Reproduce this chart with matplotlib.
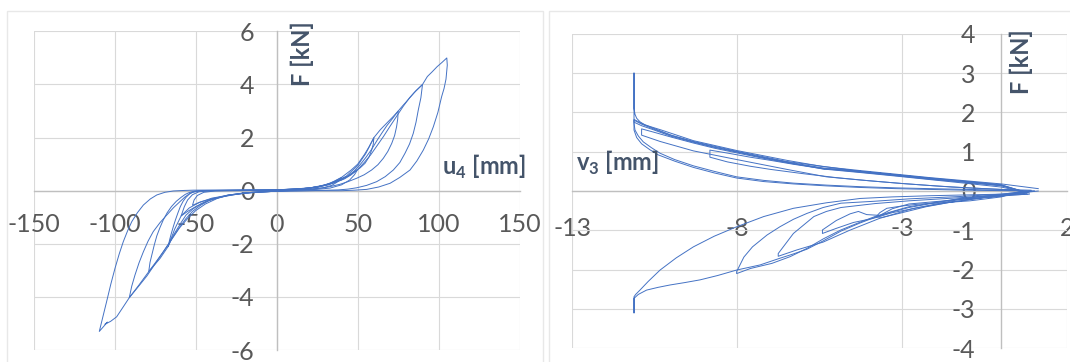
import matplotlib
matplotlib.use("Agg")
import matplotlib.pyplot as plt
from matplotlib.patches import Rectangle

plt.rcParams['font.family'] = ['Lato', 'DejaVu Sans']
plt.rcParams['axes.unicode_minus'] = False
plt.rcParams['mathtext.fontset'] = 'custom'
plt.rcParams['mathtext.rm'] = 'Lato:bold'
plt.rcParams['mathtext.bf'] = 'Lato:bold'

# ---- left chart: horizontal displacement u4 vs force, cycle by cycle ----
u4_c1 = [0, 10, 20, 30, 36, 40, 38, 34, 28, 20, 10, 0, -10, -20, -30, -40, -47, -52, -51, -49, -45, -38, -25, -10, 0]
f_c1 = [0, 0.04, 0.1, 0.22, 0.36, 0.5, 0.35, 0.2, 0.1, 0.05, 0.02, -0.01, -0.04, -0.1, -0.18, -0.3, -0.42, -0.55, -0.35, -0.18, -0.06, -0.01, 0.0, 0.01, 0.02]

u4_c2 = [0, 10, 20, 30, 38, 44, 50, 48, 45, 40, 33, 25, 12, 0, -10, -20, -30, -40, -48, -54, -59, -57, -55, -52, -48, -40, -25, -10, 0]
f_c2 = [0.02, 0.05, 0.1, 0.2, 0.38, 0.55, 0.8, 0.6, 0.4, 0.22, 0.1, 0.05, 0.02, -0.02, -0.05, -0.1, -0.17, -0.28, -0.45, -0.65, -0.95, -0.6, -0.35, -0.15, -0.04, 0.0, 0.01, 0.02, 0.03]

u4_c3 = [0, 15, 25, 33, 40, 46, 50, 54, 57, 60, 59.6, 58.6, 57, 54.5, 51.5, 48.3, 45, 41, 35, 25, 12, 0,
         -15, -28, -40, -50, -55, -59, -63, -67, -66.1, -65, -63.8, -62.5, -61, -59.5, -57.8, -56, -54, -52, -47, -35, -20, 0]
f_c3 = [0.03, 0.07, 0.14, 0.28, 0.5, 0.78, 1.0, 1.35, 1.65, 2.0, 1.75, 1.53, 1.27, 1.03, 0.86, 0.72, 0.58, 0.47, 0.3, 0.12, 0.04, -0.02,
        -0.06, -0.15, -0.32, -0.6, -0.78, -0.95, -1.45, -2.1, -1.85, -1.6, -1.35, -1.1, -0.84, -0.6, -0.4, -0.25, -0.13, -0.06, 0.0, 0.01, 0.02, 0.03]

u4_c4 = [0, 15, 25, 35, 43, 50, 55, 60, 64, 68, 72, 75, 74.7, 74, 72.8, 71, 68.6, 65.8, 62.5, 58.6, 54, 49.4, 44, 39, 34, 30, 18, 0,
         -15, -30, -42, -47, -52, -56, -59, -64, -67, -72, -79, -78.2, -77, -75.6, -74, -72, -70, -67.6, -65, -62, -59, -56.5, -54, -51, -48, -30, 0]
f_c4 = [0.03, 0.07, 0.14, 0.3, 0.55, 0.95, 1.4, 2.0, 2.3, 2.55, 2.8, 3.0, 2.7, 2.41, 2.08, 1.78, 1.48, 1.22, 0.98, 0.78, 0.6, 0.47, 0.34, 0.24, 0.17, 0.12, 0.04, -0.02,
        -0.06, -0.16, -0.35, -0.5, -0.7, -0.92, -1.2, -1.7, -2.1, -2.55, -3.05, -2.7, -2.4, -2.05, -1.7, -1.38, -1.1, -0.83, -0.6, -0.4, -0.25, -0.14, -0.07, -0.02, 0.0, 0.01, 0.03]

u4_c5 = [0, 20, 30, 40, 44, 48, 51.5, 55, 58.5, 62, 65, 68, 71.5, 75, 77.5, 80, 85, 87.5, 90,
         89, 87.4, 86, 84.3, 82, 79.2, 76, 72, 67, 61.7, 55.5, 49.4, 44, 38, 20, 0,
         -20, -35, -42, -47, -52, -56, -60, -63, -66.5, -70, -74.5, -79, -85, -91,
         -89.5, -87.5, -85, -82.3, -79.4, -76.2, -72, -67.9, -63.7, -59.7, -56.5, -53.5, -50.5, -48, -30, 0]
f_c5 = [0.03, 0.1, 0.2, 0.4, 0.55, 0.75, 0.98, 1.25, 1.55, 1.9, 2.18, 2.45, 2.72, 3.0, 3.18, 3.35, 3.7, 3.85, 4.0,
        3.5, 3.04, 2.58, 2.16, 1.76, 1.41, 1.06, 0.78, 0.53, 0.34, 0.2, 0.11, 0.06, 0.03, 0.0, -0.02,
        -0.08, -0.25, -0.38, -0.55, -0.78, -1.05, -1.38, -1.65, -1.98, -2.3, -2.68, -3.05, -3.55, -4.03,
        -3.6, -3.18, -2.72, -2.3, -1.9, -1.54, -1.2, -0.92, -0.64, -0.41, -0.23, -0.1, -0.03, -0.01, 0.01, 0.03]

u4_c6 = [0, 20, 32, 42, 46, 50, 54, 58, 62, 66, 70, 74, 78, 82, 86, 90, 93, 96, 99, 102, 105,
         105.3, 104.5, 103.3, 101.8, 99.5, 96.7, 93.8, 90.5, 86.5, 82.3, 76, 70, 63, 55.6, 48, 40, 20, 0,
         -20, -30, -37, -44, -50, -55, -60, -65, -70, -75, -80, -85.5, -91, -95, -98.8, -102.5, -106, -104.5, -109.5,
         -107.5, -105, -102.4, -99.8, -97.2, -94.7, -92.1, -89.5, -86, -82.3, -78, -74, -69, -63.8, -57, -51.5, -30, 0]
f_c6 = [0.03, 0.1, 0.22, 0.45, 0.6, 0.8, 1.06, 1.35, 1.7, 2.05, 2.43, 2.8, 3.17, 3.5, 3.77, 4.0, 4.3, 4.48, 4.67, 4.83, 5.0,
        4.73, 4.2, 3.85, 3.54, 2.95, 2.41, 1.95, 1.53, 1.12, 0.78, 0.5, 0.28, 0.14, 0.05, 0.02, 0.0, 0.0, -0.02,
        -0.08, -0.17, -0.3, -0.5, -0.75, -1.05, -1.4, -1.85, -2.3, -2.75, -3.2, -3.62, -4.03, -4.4, -4.75, -4.92, -5.03, -4.95, -5.3,
        -4.8, -4.18, -3.52, -2.92, -2.38, -1.92, -1.52, -1.17, -0.83, -0.54, -0.31, -0.16, -0.06, -0.01, 0.01, 0.02, 0.03, 0.03]

# ---- right chart: vertical displacement v3 vs force ----
v3_r1 = [0.45, 0.0, -1.0, -2.16, -3.2, -4.28, -5.29, -6.3, -7.0, -7.61, -8.2, -8.83, -8.83, -8.3, -7.61, -7.0, -6.0, -5.0, -4.0, -3.0, -2.0, -1.0, 0.0, 0.6]
fv_r1 = [0.02, 0.1, 0.19, 0.29, 0.38, 0.47, 0.55, 0.68, 0.78, 0.86, 0.95, 1.04, 0.86, 0.74, 0.63, 0.55, 0.44, 0.34, 0.26, 0.19, 0.13, 0.08, 0.04, 0.01]

v3_r2 = [0.6, 0.0, -0.95, -1.8, -2.46, -3.0, -3.47, -3.68, -3.8, -3.6, -3.0, -2.28, -1.5, -0.5, 0.3, 0.77]
fv_r2 = [0.0, -0.15, -0.25, -0.3, -0.33, -0.38, -0.44, -0.55, -0.66, -0.67, -0.55, -0.4, -0.28, -0.16, -0.08, -0.06]

v3_r3 = [0.77, 0.0, -1.0, -2.16, -3.2, -4.28, -5.29, -6.3, -7.2, -8.02, -8.7, -9.33, -10.0, -10.55, -10.9, -10.9, -10.34, -9.33, -8.02, -6.5, -5.3, -4.28, -3.0, -1.5, 0.0, 0.9]
fv_r3 = [-0.04, 0.13, 0.21, 0.3, 0.39, 0.48, 0.56, 0.69, 0.83, 0.97, 1.09, 1.22, 1.37, 1.5, 1.58, 1.42, 1.26, 1.02, 0.8, 0.55, 0.36, 0.28, 0.19, 0.1, 0.04, 0.02]

v3_r4 = [0.9, 0.0, -1.0, -2.0, -2.8, -3.3, -3.68, -4.08, -4.33, -4.58, -5.0, -5.42, -5.42, -5.0, -4.48, -3.9, -3.3, -2.5, -1.5, -0.5, 0.4, 0.85]
fv_r4 = [0.0, -0.13, -0.2, -0.27, -0.33, -0.45, -0.62, -0.6, -0.52, -0.58, -0.75, -0.99, -1.08, -0.95, -0.8, -0.7, -0.55, -0.42, -0.28, -0.17, -0.1, -0.08]

v3_r5 = [0.85, 0.0, -1.0, -2.16, -3.2, -4.28, -5.2, -5.35, -6.5, -7.3, -8.02, -8.7, -9.33, -10.0, -10.55, -10.9, -11.13, -11.13, -11.13,
         -11.1, -11.05, -10.95, -10.8, -10.3, -9.33, -8.02, -6.5, -5.4, -4.28, -2.16, 0.0, 1.12]
fv_r5 = [-0.05, 0.15, 0.23, 0.32, 0.41, 0.5, 0.57, 0.55, 0.73, 0.86, 0.99, 1.11, 1.24, 1.39, 1.56, 1.66, 1.75, 3.0, 2.1,
         1.95, 1.85, 1.76, 1.68, 1.55, 1.28, 1.03, 0.78, 0.62, 0.52, 0.34, 0.18, 0.06]

v3_r6 = [1.12, 0.0, -1.25, -2.8, -3.83, -4.86, -5.3, -5.68, -6.3, -6.76, -6.76, -6.2, -5.4, -4.6, -3.7, -2.7, -1.3, 0.0, 0.8]
fv_r6 = [0.0, -0.1, -0.17, -0.25, -0.32, -0.42, -0.52, -0.65, -1.08, -1.59, -1.66, -1.5, -1.3, -1.0, -0.7, -0.45, -0.22, -0.12, -0.08]

v3_r7 = [0.8, 0.0, -1.0, -2.16, -3.2, -4.28, -5.29, -6.5, -7.3, -8.02, -8.7, -9.33, -10.0, -10.55, -10.9, -11.13,
         -11.13, -11.1, -11.0, -10.85, -10.6, -10.34, -9.9, -9.33, -8.7, -8.02, -7.2, -6.3, -5.3, -4.28, -3.2, -2.16, -1.0, 0.0, 0.9]
fv_r7 = [-0.04, 0.14, 0.22, 0.31, 0.4, 0.49, 0.57, 0.74, 0.87, 1.0, 1.12, 1.25, 1.41, 1.58, 1.7, 1.8,
         1.72, 1.55, 1.4, 1.25, 1.1, 0.96, 0.8, 0.64, 0.5, 0.36, 0.27, 0.2, 0.15, 0.11, 0.08, 0.06, 0.04, 0.02, 0.0]

v3_r8 = [0.9, 0.0, -1.25, -2.8, -3.83, -4.86, -5.4, -5.89, -6.3, -6.71, -7.1, -7.54, -7.8, -8.02, -8.02, -7.6, -6.95, -6.4, -5.89, -5.4, -4.86, -4.3, -3.83, -3.3, -2.8, -2.0, -1.25, 0.0, 0.7]
fv_r8 = [0.0, -0.08, -0.14, -0.2, -0.26, -0.31, -0.42, -0.57, -0.72, -0.91, -1.12, -1.42, -1.68, -2.05, -2.1, -1.97, -1.84, -1.67, -1.46, -1.22, -0.99, -0.8, -0.65, -0.52, -0.4, -0.29, -0.19, -0.1, -0.07]

v3_r9 = [0.7, 0.0, -2.16, -4.28, -6.5, -8.02, -9.33, -10.0, -10.55, -10.9, -11.13, -11.13, -11.05, -10.9, -10.65, -10.4, -9.9, -9.33, -8.7, -8.02, -7.2, -6.3, -5.3, -4.28, -3.2, -2.16, -1.0, 0.0, 1.0]
fv_r9 = [-0.03, 0.16, 0.33, 0.5, 0.75, 1.01, 1.26, 1.42, 1.6, 1.72, 1.82, 1.55, 1.36, 1.2, 1.05, 0.92, 0.76, 0.6, 0.46, 0.33, 0.24, 0.18, 0.13, 0.09, 0.06, 0.04, 0.02, 0.01, 0.0]

v3_r10 = [1.0, 0.0, -2.16, -3.3, -4.28, -5.3, -6.3, -7.2, -8.02, -8.7, -9.33, -9.85, -10.34, -10.7, -10.95, -11.08, -11.13,
          -11.13, -11.13, -11.0, -10.75, -10.4, -10.04, -9.6, -9.13, -8.6, -8.02, -7.31, -6.71, -6.3, -5.89, -5.4, -4.86,
          -4.3, -3.83, -3.3, -2.8, -2.0, -1.25, -0.6, 0.0, 0.6]
fv_r10 = [0.0, -0.08, -0.12, -0.15, -0.19, -0.3, -0.44, -0.65, -0.91, -1.15, -1.42, -1.7, -2.01, -2.3, -2.52, -2.63, -2.69,
          -3.1, -2.73, -2.63, -2.52, -2.45, -2.39, -2.33, -2.26, -2.15, -2.01, -1.88, -1.71, -1.6, -1.48, -1.27, -1.02,
          -0.82, -0.67, -0.53, -0.42, -0.3, -0.2, -0.14, -0.1, -0.05]

# axis ticks
left_xticks = [-150, -100, -50, 0, 50, 100, 150]
left_yticks = [-6, -4, -2, 0, 2, 4, 6]
right_xticks = [-13, -8, -3, 2]
right_yticks = [-4, -3, -2, -1, 0, 1, 2, 3, 4]

LINE = '#4472C4'
GRID = '#D9D9D9'
AXIS = '#BFBFBF'
TICK = '#595959'
TITLE = '#44546A'
W, H = 1070, 362

fig = plt.figure(figsize=(W / 100, H / 100), dpi=100)
fig.patch.set_facecolor('white')

# chart-area frames
fig.add_artist(Rectangle((7 / W, -0.1), (543 - 7) / W, 1.1 - 11 / H,
                         transform=fig.transFigure, fill=False, ec='#E8E8E8', lw=1))
fig.add_artist(Rectangle((549 / W, -0.1), 0.6, 1.1 - 11 / H,
                         transform=fig.transFigure, fill=False, ec='#E8E8E8', lw=1))

ax1 = fig.add_axes([33.7 / W, 1 - 350 / H, 486 / W, 318.6 / H])
ax2 = fig.add_axes([572.3 / W, 1 - 348.3 / H, 495 / W, 314.6 / H])


def style(ax, xt, yt, xpad, ypad):
    ax.set_xticks(xt)
    ax.set_xticklabels([str(v) for v in xt])
    ax.set_yticks(yt)
    ax.set_yticklabels([str(v) for v in yt])
    ax.set_xlim(xt[0], xt[-1])
    ax.set_ylim(yt[0], yt[-1])
    ax.grid(True, color=GRID, lw=0.8, zorder=0)
    ax.set_axisbelow(True)
    for side in ('top', 'right'):
        ax.spines[side].set_visible(False)
    for side in ('left', 'bottom'):
        ax.spines[side].set_position(('data', 0))
        ax.spines[side].set_color(AXIS)
        ax.spines[side].set_linewidth(1.0)
    ax.tick_params(axis='x', length=0, labelsize=18, labelcolor=TICK, pad=xpad)
    ax.tick_params(axis='y', length=0, labelsize=18, labelcolor=TICK, pad=ypad)
    ax.set_facecolor('none')


style(ax1, left_xticks, left_yticks, 16, 16)
style(ax2, right_xticks, right_yticks, 19, 18.5)

for u, f in [(u4_c1, f_c1), (u4_c2, f_c2), (u4_c3, f_c3),
             (u4_c4, f_c4), (u4_c5, f_c5), (u4_c6, f_c6)]:
    ax1.plot(u, f, color=LINE, lw=0.7, zorder=3)

for v, f in [(v3_r1, fv_r1), (v3_r2, fv_r2), (v3_r3, fv_r3), (v3_r4, fv_r4),
             (v3_r5, fv_r5), (v3_r6, fv_r6), (v3_r7, fv_r7), (v3_r8, fv_r8),
             (v3_r9, fv_r9), (v3_r10, fv_r10)]:
    ax2.plot(v, f, color=LINE, lw=0.7, zorder=3)

# axis titles
fig.text(302 / W, 1 - 54 / H, 'F [kN]', rotation=90, ha='center', va='center',
         fontsize=17, fontweight='bold', color=TITLE)
fig.text(442 / W, 1 - 167 / H, r'u$_{4}$ [mm]', ha='left', va='center',
         fontsize=17, fontweight='bold', color=TITLE)
fig.text(576 / W, 1 - 163 / H, r'v$_{3}$ [mm]', ha='left', va='center',
         fontsize=17, fontweight='bold', color=TITLE)
fig.text(1021 / W, 1 - 62 / H, 'F [kN]', rotation=90, ha='center', va='center',
         fontsize=17, fontweight='bold', color=TITLE)

fig.savefig('out.png', dpi=100)
